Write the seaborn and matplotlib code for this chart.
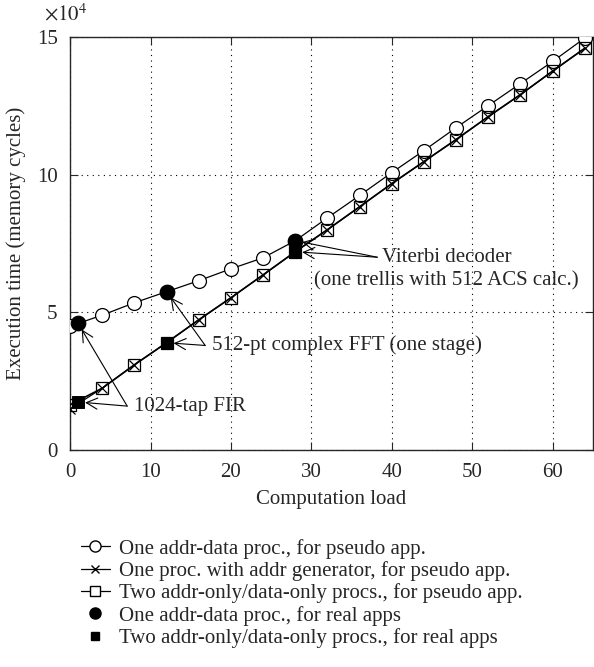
import numpy as np
import pandas as pd
import seaborn as sns
import matplotlib.pyplot as plt
from matplotlib.lines import Line2D

# computation load (x) and execution time in units of 1e4 memory cycles
load = [0, 4, 8, 12, 16, 20, 24, 28, 32, 36, 40, 44, 48, 52, 56, 60, 64]
one_addr_data = [4.5, 4.9, 5.35, 5.75, 6.15, 6.58, 6.98, 7.6, 8.43, 9.24,
                 10.07, 10.87, 11.7, 12.5, 13.3, 14.1, 14.95]
one_proc_gen = [1.5, 2.25, 3.1, 3.9, 4.73, 5.53, 6.36, 7.2, 8.0, 8.83,
                9.67, 10.47, 11.27, 12.1, 12.9, 13.75, 14.58]
two_procs = [1.65, 2.25, 3.1, 3.9, 4.73, 5.53, 6.36, 7.2, 8.0, 8.83,
             9.67, 10.47, 11.27, 12.1, 12.9, 13.75, 14.58]

real_load = [1, 12, 28]
real_one = [4.6, 5.75, 7.6]
real_two = [1.75, 3.9, 7.2]

labels = [
    "One addr-data proc., for pseudo app.",
    "One proc. with addr generator, for pseudo app.",
    "Two addr-only/data-only procs., for pseudo app.",
    "One addr-data proc., for real apps",
    "Two addr-only/data-only procs., for real apps",
]

sns.set_style("ticks")
plt.rcParams["font.family"] = ["Liberation Serif", "DejaVu Serif"]
plt.rcParams["mathtext.fontset"] = "stix"
plt.rcParams["font.size"] = 15

df = pd.DataFrame({"load": load, "a": one_addr_data, "b": one_proc_gen, "c": two_procs})
real = pd.DataFrame({"load": real_load, "one": real_one, "two": real_two})

fig = plt.figure(figsize=(5.94, 6.67), dpi=100)
ax = fig.add_axes([0.118, 0.325, 0.88, 0.62])

sns.lineplot(data=df, x="load", y="a", ax=ax, color="black", lw=0.9,
             marker="o", ms=10, mfc="white", mec="black", mew=0.9, zorder=3)
sns.lineplot(data=df, x="load", y="b", ax=ax, color="black", lw=0.9,
             marker="x", ms=7, mec="black", mew=0.9, zorder=3)
sns.lineplot(data=df, x="load", y="c", ax=ax, color="black", lw=1.2,
             marker="s", ms=8, mfc="none", mec="black", mew=0.9, zorder=3)
sns.scatterplot(data=real, x="load", y="one", ax=ax, color="black",
                marker="o", s=110, edgecolor="black", zorder=4)
sns.scatterplot(data=real, x="load", y="two", ax=ax, color="black",
                marker="s", s=70, edgecolor="black", zorder=4)

ax.set_xlim(0, 65)
ax.set_ylim(0, 15)
ax.set_xticks([0, 10, 20, 30, 40, 50, 60])
ax.set_yticks([0, 5, 10, 15])
ax.grid(True, linestyle=(0, (1, 4)), color="black", lw=0.8)
ax.tick_params(direction="in", top=True, right=True, length=6, width=0.8,
               pad=9, labelsize=15)
for s in ax.spines.values():
    s.set_visible(True)
    s.set_linewidth(1.0)
ax.set_xlabel("Computation load", labelpad=6)
ax.set_ylabel("Execution time (memory cycles)", labelpad=8)
ax.text(-0.05, 1.04, r"$\times 10^4$", transform=ax.transAxes, fontsize=15)

arrow = dict(arrowstyle="->", color="black", lw=0.8, shrinkA=0, shrinkB=5,
             mutation_scale=20)
for xy in [(1, 4.6), (1, 1.75)]:
    ax.annotate("", xy=xy, xytext=(7.1, 1.6), arrowprops=arrow)
ax.text(8.0, 1.6, "1024-tap FIR", va="center")
for xy in [(12, 5.75), (12, 3.9)]:
    ax.annotate("", xy=xy, xytext=(16.8, 3.8), arrowprops=arrow)
ax.text(17.6, 3.8, "512-pt complex FFT (one stage)", va="center")
for xy in [(28, 7.6), (28, 7.2)]:
    ax.annotate("", xy=xy, xytext=(38.2, 7.0), arrowprops=arrow)
ax.text(46.8, 7.0, "Viterbi decoder", ha="center", va="center")
ax.text(46.8, 6.15, "(one trellis with 512 ACS calc.)", ha="center", va="center")

handles = [
    Line2D([], [], color="black", lw=0.9, marker="o", ms=8, mfc="white", mec="black"),
    Line2D([], [], color="black", lw=0.9, marker="x", ms=6, mec="black"),
    Line2D([], [], color="black", lw=0.9, marker="s", ms=7, mfc="white", mec="black"),
    Line2D([], [], color="none", marker="o", ms=8, mfc="black", mec="black"),
    Line2D([], [], color="none", marker="s", ms=5.5, mfc="black", mec="black"),
]
fig.legend(handles, labels, loc="upper left", bbox_to_anchor=(0.122, 0.205),
           frameon=False, handlelength=1.4, handletextpad=0.45,
           labelspacing=0.12, fontsize=15, borderaxespad=0)

fig.savefig("out.png", dpi=100)
